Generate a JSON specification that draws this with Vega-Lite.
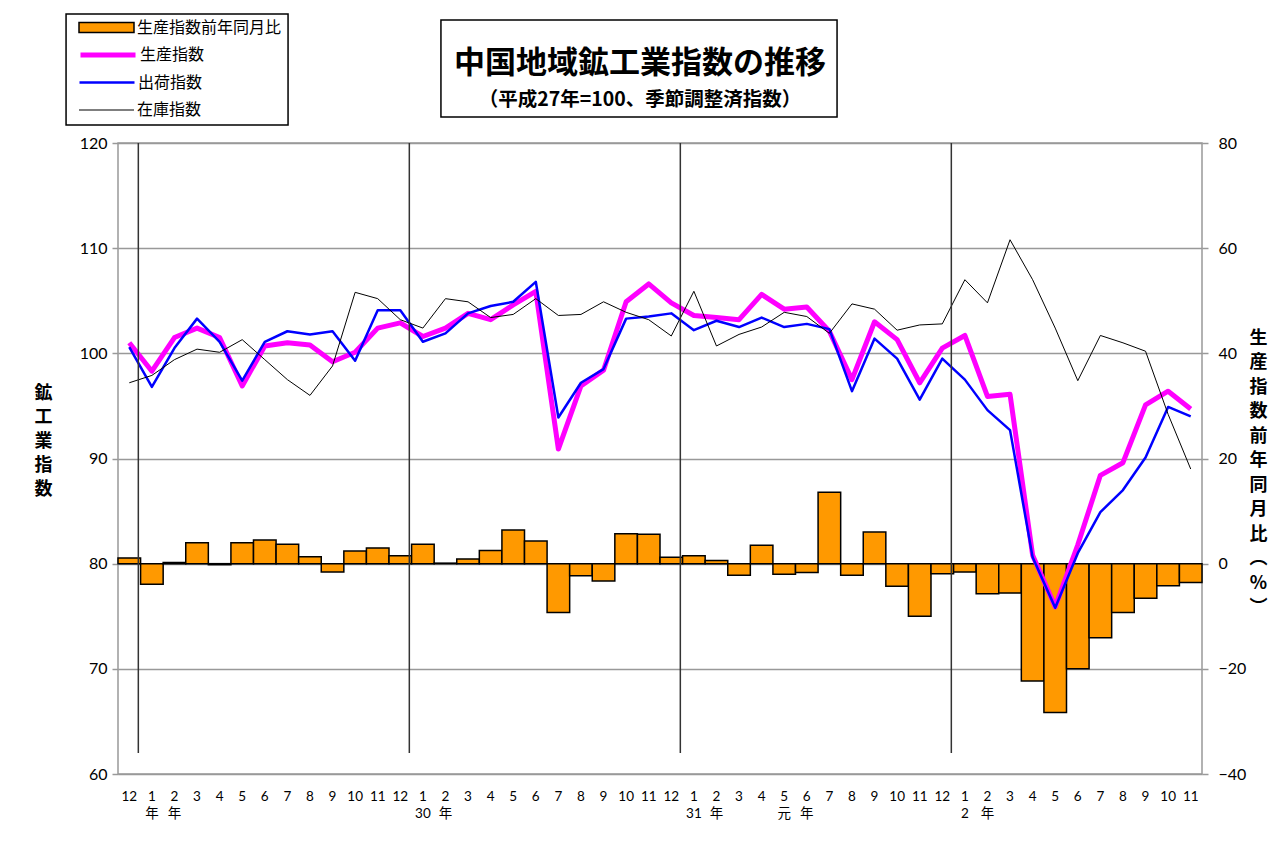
{
  "$schema": "https://vega.github.io/schema/vega-lite/v6.json",
  "width": 1084,
  "height": 631,
  "autosize": {"type": "none"},
  "padding": {"left": 118, "top": 143, "right": 77, "bottom": 78},
  "background": "white",
  "title": {
    "text": "中国地域鉱工業指数の推移",
    "subtitle": "（平成27年=100、季節調整済指数）",
    "font": "Noto Sans CJK JP",
    "fontSize": 31,
    "fontWeight": "bold",
    "color": "black",
    "subtitleFont": "Noto Sans CJK JP",
    "subtitleFontSize": 19.5,
    "subtitleFontWeight": "bold",
    "subtitleColor": "black",
    "subtitlePadding": 11,
    "anchor": "middle",
    "frame": "group",
    "offset": -97,
    "dx": -20
  },
  "data": {
    "values": [
      {"key": "2016-12|12|", "prod": 101.0, "ship": 100.6, "inv": 97.2, "yoy": 1.1},
      {"key": "2017-01|1|年", "prod": 98.3, "ship": 96.8, "inv": 97.9, "yoy": -3.9},
      {"key": "2017-02|2|年", "prod": 101.5, "ship": 100.5, "inv": 99.4, "yoy": 0.2},
      {"key": "2017-03|3|", "prod": 102.4, "ship": 103.3, "inv": 100.4, "yoy": 4.0},
      {"key": "2017-04|4|", "prod": 101.5, "ship": 101.1, "inv": 100.1, "yoy": -0.2},
      {"key": "2017-05|5|", "prod": 96.9, "ship": 97.4, "inv": 101.3, "yoy": 4.0},
      {"key": "2017-06|6|", "prod": 100.7, "ship": 101.1, "inv": 99.4, "yoy": 4.5},
      {"key": "2017-07|7|", "prod": 101.0, "ship": 102.1, "inv": 97.5, "yoy": 3.7},
      {"key": "2017-08|8|", "prod": 100.8, "ship": 101.8, "inv": 96.0, "yoy": 1.3},
      {"key": "2017-09|9|", "prod": 99.2, "ship": 102.1, "inv": 98.8, "yoy": -1.6},
      {"key": "2017-10|10|", "prod": 100.1, "ship": 99.3, "inv": 105.8, "yoy": 2.4},
      {"key": "2017-11|11|", "prod": 102.4, "ship": 104.1, "inv": 105.2, "yoy": 3.0},
      {"key": "2017-12|12|", "prod": 102.9, "ship": 104.1, "inv": 103.2, "yoy": 1.5},
      {"key": "2018-01|1|30", "prod": 101.6, "ship": 101.1, "inv": 102.4, "yoy": 3.7},
      {"key": "2018-02|2|年", "prod": 102.4, "ship": 101.9, "inv": 105.2, "yoy": 0.1},
      {"key": "2018-03|3|", "prod": 103.8, "ship": 103.8, "inv": 104.9, "yoy": 0.9},
      {"key": "2018-04|4|", "prod": 103.2, "ship": 104.5, "inv": 103.4, "yoy": 2.5},
      {"key": "2018-05|5|", "prod": 104.6, "ship": 104.9, "inv": 103.7, "yoy": 6.4},
      {"key": "2018-06|6|", "prod": 105.9, "ship": 106.8, "inv": 105.2, "yoy": 4.3},
      {"key": "2018-07|7|", "prod": 90.9, "ship": 93.9, "inv": 103.6, "yoy": -9.3},
      {"key": "2018-08|8|", "prod": 96.9, "ship": 97.2, "inv": 103.7, "yoy": -2.3},
      {"key": "2018-09|9|", "prod": 98.4, "ship": 98.5, "inv": 104.9, "yoy": -3.3},
      {"key": "2018-10|10|", "prod": 104.9, "ship": 103.3, "inv": 103.9, "yoy": 5.7},
      {"key": "2018-11|11|", "prod": 106.6, "ship": 103.5, "inv": 103.2, "yoy": 5.6},
      {"key": "2018-12|12|", "prod": 104.8, "ship": 103.8, "inv": 101.65, "yoy": 1.2},
      {"key": "2019-01|1|31", "prod": 103.6, "ship": 102.2, "inv": 105.9, "yoy": 1.5},
      {"key": "2019-02|2|年", "prod": 103.4, "ship": 103.1, "inv": 100.7, "yoy": 0.6},
      {"key": "2019-03|3|", "prod": 103.2, "ship": 102.5, "inv": 101.8, "yoy": -2.2},
      {"key": "2019-04|4|", "prod": 105.6, "ship": 103.4, "inv": 102.5, "yoy": 3.5},
      {"key": "2019-05|5|元", "prod": 104.2, "ship": 102.5, "inv": 103.9, "yoy": -2.0},
      {"key": "2019-06|6|年", "prod": 104.4, "ship": 102.8, "inv": 103.5, "yoy": -1.7},
      {"key": "2019-07|7|", "prod": 102.1, "ship": 102.3, "inv": 101.9, "yoy": 13.6},
      {"key": "2019-08|8|", "prod": 97.5, "ship": 96.4, "inv": 104.7, "yoy": -2.2},
      {"key": "2019-09|9|", "prod": 103.0, "ship": 101.4, "inv": 104.2, "yoy": 6.0},
      {"key": "2019-10|10|", "prod": 101.3, "ship": 99.5, "inv": 102.2, "yoy": -4.3},
      {"key": "2019-11|11|", "prod": 97.2, "ship": 95.6, "inv": 102.7, "yoy": -10.0},
      {"key": "2019-12|12|", "prod": 100.5, "ship": 99.5, "inv": 102.8, "yoy": -1.9},
      {"key": "2020-01|1|2", "prod": 101.7, "ship": 97.5, "inv": 107.0, "yoy": -1.6},
      {"key": "2020-02|2|年", "prod": 95.9, "ship": 94.6, "inv": 104.8, "yoy": -5.7},
      {"key": "2020-03|3|", "prod": 96.1, "ship": 92.7, "inv": 110.8, "yoy": -5.6},
      {"key": "2020-04|4|", "prod": 80.8, "ship": 80.6, "inv": 107.0, "yoy": -22.3},
      {"key": "2020-05|5|", "prod": 75.9, "ship": 75.8, "inv": 102.4, "yoy": -28.3},
      {"key": "2020-06|6|", "prod": 81.8, "ship": 81.0, "inv": 97.4, "yoy": -20.0},
      {"key": "2020-07|7|", "prod": 88.4, "ship": 84.9, "inv": 101.7, "yoy": -14.1},
      {"key": "2020-08|8|", "prod": 89.6, "ship": 87.0, "inv": 101.0, "yoy": -9.3},
      {"key": "2020-09|9|", "prod": 95.1, "ship": 90.1, "inv": 100.2, "yoy": -6.6},
      {"key": "2020-10|10|", "prod": 96.4, "ship": 94.9, "inv": 94.2, "yoy": -4.2},
      {"key": "2020-11|11|", "prod": 94.7, "ship": 94.0, "inv": 89.0, "yoy": -3.6}
    ]
  },
  "layer": [
    {
      "mark": {"type": "bar", "stroke": "black", "strokeWidth": 1.5},
      "encoding": {
        "x": {
          "field": "key",
          "type": "ordinal",
          "sort": "ascending",
          "title": null,
          "scale": {"paddingInner": 0, "paddingOuter": 0},
          "axis": {
            "labelAngle": 0,
            "labelExpr": "[split(datum.value,'|')[1], split(datum.value,'|')[2]]",
            "labelFont": "Lato, Noto Sans CJK JP",
            "labelFontSize": 13.5,
            "labelLineHeight": 17,
            "labelPadding": 15,
            "labelBaseline": "top",
            "labelColor": "black",
            "labelOverlap": false,
            "ticks": false,
            "domain": false,
            "grid": false
          }
        },
        "y": {
          "field": "yoy",
          "type": "quantitative",
          "scale": {"domain": [-40, 80], "nice": false},
          "axis": {
            "orient": "right",
            "values": [-40, -20, 0, 20, 40, 60, 80],
            "grid": false,
            "domain": false,
            "tickSize": 6,
            "tickColor": "#999",
            "tickWidth": 1.5,
            "labelPadding": 10,
            "labelFont": "Lato",
            "labelFontSize": 16,
            "labelColor": "black",
            "title": ["生", "産", "指", "数", "前", "年", "同", "月", "比", "︵", "%", "︶"],
            "titleAngle": 0,
            "titleFont": "Noto Sans CJK JP",
            "titleFontSize": 18,
            "titleFontWeight": "bold",
            "titleColor": "black",
            "titleLineHeight": 24.5,
            "titleAlign": "center",
            "titleBaseline": "middle",
            "titleX": 56,
            "titleY": 195
          }
        },
        "fill": {
          "datum": "生産指数前年同月比",
          "type": "nominal",
          "scale": {"domain": ["生産指数前年同月比"], "range": ["#FF9900"]},
          "legend": {
            "orient": "none",
            "legendX": -40,
            "legendY": -125,
            "title": null,
            "padding": 0,
            "symbolType": "M-1,-0.18H1V0.18H-1Z",
            "symbolSize": 3025,
            "symbolStrokeColor": "black",
            "symbolStrokeWidth": 1.5,
            "clipHeight": 19,
            "symbolOffset": 0,
            "labelOffset": 2,
            "labelFont": "Noto Sans CJK JP",
            "labelFontSize": 16,
            "labelColor": "black"
          }
        }
      }
    },
    {
      "layer": [
        {
          "mark": {"type": "line", "strokeWidth": 5, "strokeJoin": "round"},
          "encoding": {
            "x": {"field": "key", "type": "ordinal", "sort": "ascending", "title": null},
            "y": {
              "field": "prod",
              "type": "quantitative",
              "scale": {"domain": [60, 120], "nice": false},
              "axis": {
                "values": [60, 70, 80, 90, 100, 110, 120],
                "grid": true,
                "gridColor": "#999",
                "gridWidth": 1.5,
                "domain": false,
                "tickSize": 6,
                "tickColor": "#999",
                "tickWidth": 1.5,
                "labelPadding": 5,
                "labelFont": "Lato",
                "labelFontSize": 16,
                "labelColor": "black",
                "title": ["鉱", "工", "業", "指", "数"],
                "titleAngle": 0,
                "titleFont": "Noto Sans CJK JP",
                "titleFontSize": 18,
                "titleFontWeight": "bold",
                "titleColor": "black",
                "titleLineHeight": 24,
                "titleAlign": "center",
                "titleBaseline": "middle",
                "titleX": -75,
                "titleY": 250
              }
            },
            "stroke": {
              "datum": "生産指数",
              "type": "nominal",
              "scale": {"domain": ["生産指数"], "range": ["#FF00FF"]},
              "legend": {
                "orient": "none",
                "legendX": -40,
                "legendY": -97.5,
                "title": null,
                "padding": 0,
                "symbolType": "stroke",
                "symbolSize": 3025,
                "symbolStrokeWidth": 5,
                "clipHeight": 19,
                "symbolOffset": 0,
                "labelOffset": 2,
                "labelFont": "Noto Sans CJK JP",
                "labelFontSize": 16,
                "labelColor": "black"
              }
            }
          }
        },
        {
          "mark": {"type": "line", "strokeWidth": 2.5, "strokeJoin": "round"},
          "encoding": {
            "x": {"field": "key", "type": "ordinal", "sort": "ascending", "title": null},
            "y": {"field": "ship", "type": "quantitative"},
            "stroke": {
              "datum": "出荷指数",
              "type": "nominal",
              "scale": {"domain": ["出荷指数"], "range": ["#0000FF"]},
              "legend": {
                "orient": "none",
                "legendX": -40,
                "legendY": -70,
                "title": null,
                "padding": 0,
                "symbolType": "stroke",
                "symbolSize": 3025,
                "symbolStrokeWidth": 2.5,
                "clipHeight": 19,
                "symbolOffset": 0,
                "labelOffset": 2,
                "labelFont": "Noto Sans CJK JP",
                "labelFontSize": 16,
                "labelColor": "black"
              }
            }
          }
        },
        {
          "mark": {"type": "line", "strokeWidth": 1},
          "encoding": {
            "x": {"field": "key", "type": "ordinal", "sort": "ascending", "title": null},
            "y": {"field": "inv", "type": "quantitative"},
            "stroke": {
              "datum": "在庫指数",
              "type": "nominal",
              "scale": {"domain": ["在庫指数"], "range": ["#000000"]},
              "legend": {
                "orient": "none",
                "legendX": -40,
                "legendY": -42.5,
                "title": null,
                "padding": 0,
                "symbolType": "stroke",
                "symbolSize": 3025,
                "symbolStrokeWidth": 1.2,
                "symbolStrokeColor": "#808080",
                "clipHeight": 19,
                "symbolOffset": 0,
                "labelOffset": 2,
                "labelFont": "Noto Sans CJK JP",
                "labelFontSize": 16,
                "labelColor": "black"
              }
            }
          }
        },
        {
          "data": {"values": [{"key": "2017-01|1|年"}, {"key": "2018-01|1|30"}, {"key": "2019-01|1|31"}, {"key": "2020-01|1|2"}]},
          "mark": {"type": "rule", "color": "#333333", "strokeWidth": 1.5},
          "encoding": {
            "x": {"field": "key", "type": "ordinal", "sort": "ascending", "title": null, "bandPosition": -0.1},
            "y": {"datum": 120},
            "y2": {"datum": 62}
          }
        },
        {
          "data": {"values": [{}]},
          "mark": {"type": "rect", "fill": "transparent", "stroke": "black", "strokeWidth": 1.5},
          "encoding": {
            "x": {"datum": "2018-02|2|年", "type": "ordinal", "bandPosition": 0.3},
            "x2": {"datum": "2019-07|7|", "bandPosition": 0.84},
            "y": {"datum": 131.7},
            "y2": {"datum": 122.47}
          }
        },
        {
          "data": {"values": [{}]},
          "mark": {"type": "rect", "fill": "transparent", "stroke": "black", "strokeWidth": 1.5},
          "encoding": {
            "x": {"datum": "2016-12|12|", "type": "ordinal", "bandPosition": -2.3},
            "x2": {"datum": "2017-07|7|", "bandPosition": 0.53},
            "y": {"datum": 132.27},
            "y2": {"datum": 121.71}
          }
        }
      ],
      "resolve": {"scale": {"stroke": "independent"}}
    }
  ],
  "resolve": {"scale": {"y": "independent"}},
  "config": {
    "view": {"stroke": "#999", "strokeWidth": 1.5}
  }
}
